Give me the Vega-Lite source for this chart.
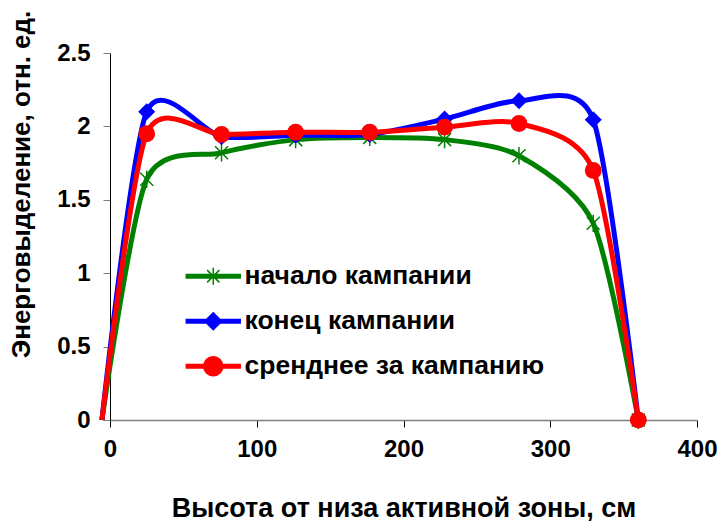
{
  "$schema": "https://vega.github.io/schema/vega-lite/v6.json",
  "autosize": "none",
  "width": 587,
  "height": 367,
  "padding": {"left": 110, "top": 53, "right": 29, "bottom": 101},
  "background": "white",
  "config": {
    "view": {"stroke": null},
    "font": "Liberation Sans",
    "axis": {"labelFont": "Liberation Sans", "titleFont": "Liberation Sans", "labelFontWeight": "bold", "titleFontWeight": "bold", "labelFontSize": 24, "titleFontSize": 27, "labelColor": "black", "titleColor": "black", "grid": false, "tickSize": 7}
  },
  "data": {"values": [
    {"s": "начало кампании", "x": -5.5, "y": 0},
    {"s": "начало кампании", "x": 25, "y": 1.64},
    {"s": "начало кампании", "x": 76, "y": 1.82},
    {"s": "начало кампании", "x": 126.5, "y": 1.91},
    {"s": "начало кампании", "x": 177, "y": 1.925},
    {"s": "начало кампании", "x": 228, "y": 1.91},
    {"s": "начало кампании", "x": 278.7, "y": 1.8},
    {"s": "начало кампании", "x": 329.3, "y": 1.34},
    {"s": "начало кампании", "x": 360, "y": 0},
    {"s": "конец кампании", "x": -5.5, "y": 0},
    {"s": "конец кампании", "x": 25, "y": 2.1},
    {"s": "конец кампании", "x": 76, "y": 1.93},
    {"s": "конец кампании", "x": 126.5, "y": 1.94},
    {"s": "конец кампании", "x": 177, "y": 1.945},
    {"s": "конец кампании", "x": 228, "y": 2.05},
    {"s": "конец кампании", "x": 278.7, "y": 2.175},
    {"s": "конец кампании", "x": 329.3, "y": 2.045},
    {"s": "конец кампании", "x": 360, "y": 0},
    {"s": "сренднее за кампанию", "x": -5.5, "y": 0},
    {"s": "сренднее за кампанию", "x": 25, "y": 1.95},
    {"s": "сренднее за кампанию", "x": 76, "y": 1.945},
    {"s": "сренднее за кампанию", "x": 126.5, "y": 1.96},
    {"s": "сренднее за кампанию", "x": 177, "y": 1.96},
    {"s": "сренднее за кампанию", "x": 228, "y": 1.995},
    {"s": "сренднее за кампанию", "x": 278.7, "y": 2.02},
    {"s": "сренднее за кампанию", "x": 329.3, "y": 1.7},
    {"s": "сренднее за кампанию", "x": 360, "y": 0}
  ]},
  "encoding": {
    "x": {"field": "x", "type": "quantitative", "scale": {"domain": [0, 400], "nice": false, "zero": false},
      "axis": {"values": [0, 100, 200, 300, 400], "title": "Высота от низа активной зоны, см", "domainColor": "#808080", "domainWidth": 1.5, "tickColor": "black", "labelPadding": 10, "labelFlush": false, "titleY": 96, "titleBaseline": "alphabetic"}},
    "y": {"field": "y", "type": "quantitative", "scale": {"domain": [0, 2.5], "nice": false},
      "axis": {"values": [0, 0.5, 1, 1.5, 2, 2.5], "format": "~g", "title": "Энерговыделение, отн. ед.", "titleFontSize": 26, "domainColor": "black", "tickColor": "#808080", "labelPadding": 13, "labelFlush": false, "titleX": -81, "titleY": 131, "titleAngle": -90, "titleAlign": "center", "titleBaseline": "alphabetic"}}
  },
  "layer": [
    {
      "transform": [{"filter": "datum.s == 'начало кампании'"}],
      "mark": {"type": "line", "interpolate": "cardinal", "tension": 0.25, "strokeWidth": 5},
      "encoding": {"color": {"field": "s", "type": "nominal",
        "scale": {"domain": ["начало кампании", "конец кампании", "сренднее за кампанию"], "range": ["#008000", "#0000FF", "#FF0000"]},
        "legend": {"title": null, "orient": "none", "legendX": 90, "legendY": 210, "padding": 0, "symbolSize": 600, "labelOffset": 18, "rowPadding": 18, "labelFont": "Liberation Sans", "labelFontWeight": "bold", "labelFontSize": 26.5, "labelColor": "black", "labelLimit": 0,
          "encode": {"symbols": {"update": {
            "shape": {"signal": "datum.value == 'начало кампании' ? 'M-2.2,-0.14H2.2V0.14H-2.2ZM-0.5,-0.5L0.5,0.5M-0.5,0.5L0.5,-0.5M0,-0.7V0.7' : datum.value == 'конец кампании' ? 'M-2.2,-0.14H2.2V0.14H-2.2ZM0,-0.69L0.69,0L0,0.69L-0.69,0Z' : 'M-2.2,-0.14H2.2V0.14H-2.2ZM-0.78,0A0.78,0.78,0,1,1,0.78,0A0.78,0.78,0,1,1,-0.78,0Z'"},
            "fill": {"signal": "datum.value == 'начало кампании' ? '#008000' : datum.value == 'конец кампании' ? '#0000FF' : '#FF0000'"},
            "stroke": {"signal": "datum.value == 'начало кампании' ? '#008000' : datum.value == 'конец кампании' ? '#0000FF' : '#FF0000'"},
            "strokeWidth": {"value": 1.5},
            "opacity": {"value": 1}
          }}}}}}
    },
    {
      "transform": [{"filter": "datum.s == 'начало кампании' && datum.x > 0"}],
      "mark": {"type": "point", "shape": "M-0.75,-0.75L0.75,0.75M-0.75,0.75L0.75,-0.75M0,-1V1", "size": 300, "filled": false, "stroke": "#008000", "strokeWidth": 1.5, "opacity": 1},
      "encoding": {}
    },
    {
      "transform": [{"filter": "datum.s == 'конец кампании'"}],
      "mark": {"type": "line", "interpolate": "cardinal", "tension": 0.25, "strokeWidth": 5},
      "encoding": {"color": {"field": "s", "type": "nominal"}}
    },
    {
      "transform": [{"filter": "datum.s == 'конец кампании' && datum.x > 0"}],
      "mark": {"type": "point", "shape": "diamond", "size": 289, "filled": true, "fill": "#0000FF", "opacity": 1},
      "encoding": {}
    },
    {
      "transform": [{"filter": "datum.s == 'сренднее за кампанию'"}],
      "mark": {"type": "line", "interpolate": "cardinal", "tension": 0.25, "strokeWidth": 5},
      "encoding": {"color": {"field": "s", "type": "nominal"}}
    },
    {
      "transform": [{"filter": "datum.s == 'сренднее за кампанию' && datum.x > 0"}],
      "mark": {"type": "point", "shape": "circle", "size": 283, "filled": true, "fill": "#FF0000", "opacity": 1},
      "encoding": {}
    }
  ]
}
